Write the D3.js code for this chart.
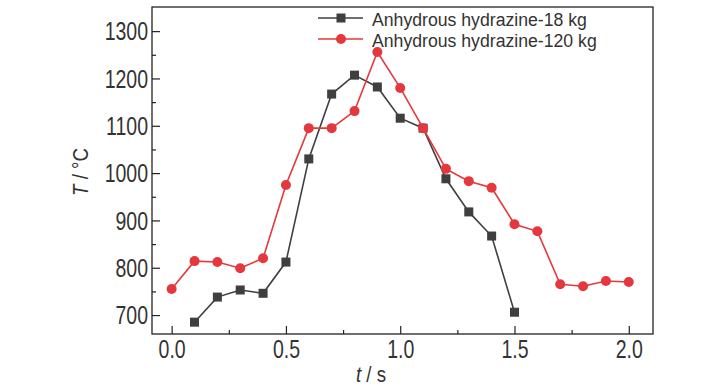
<!DOCTYPE html>
<html><head><meta charset="utf-8">
<script src="https://cdn.jsdelivr.net/npm/d3@7"></script>
<style>body{margin:0;background:#fff}svg{display:block}</style>
</head><body>
<svg id="c" width="728" height="390"></svg>
<script>
const tBlack = [0.1,0.2,0.3,0.4,0.5,0.6,0.7,0.8,0.9,1.0,1.1,1.2,1.3,1.4,1.5];
const vBlack = [685,738,753,746,812,1030,1167,1207,1182,1116,1095,988,918,867,706];
const tRed = [0.0,0.1,0.2,0.3,0.4,0.5,0.6,0.7,0.8,0.9,1.0,1.1,1.2,1.3,1.4,1.5,1.6,1.7,1.8,1.9,2.0];
const vRed = [755,814,812,799,820,975,1095,1095,1131,1256,1180,1095,1009,983,969,892,877,765,761,772,770];
const xTicks = [0.0,0.5,1.0,1.5,2.0];
const yTicks = [700,800,900,1000,1100,1200,1300];
const seriesNames = ["Anhydrous hydrazine-18 kg","Anhydrous hydrazine-120 kg"];
const colors = ["#3f3f3f","#e5383e"];

const svg = d3.select("#c");
const L=152, R=653, T=7, B=334;
const x = d3.scaleLinear().domain([-0.086,2.106]).range([L,R]);
const y = d3.scaleLinear().domain([660,1351]).range([B,T]);
const font = "'Liberation Sans', Arial, sans-serif";

// frame
svg.append("rect").attr("x",L).attr("y",T).attr("width",R-L).attr("height",B-T)
  .attr("fill","none").attr("stroke","#222").attr("stroke-width",1.3);

// x axis
const gx = svg.append("g").attr("transform",`translate(0,${B})`)
  .call(d3.axisBottom(x).tickValues(xTicks).tickFormat(d3.format(".1f")).tickSize(-8).tickPadding(6));
const gxm = svg.append("g").attr("transform",`translate(0,${B})`)
  .call(d3.axisBottom(x).tickValues([0.25,0.75,1.25,1.75]).tickFormat("").tickSize(-4));
// y axis
const gy = svg.append("g").attr("transform",`translate(${L},0)`)
  .call(d3.axisLeft(y).tickValues(yTicks).tickFormat(d3.format("d")).tickSize(-8).tickPadding(4));
const gym = svg.append("g").attr("transform",`translate(${L},0)`)
  .call(d3.axisLeft(y).tickValues([750,850,950,1050,1150,1250]).tickFormat("").tickSize(-4));
[gx,gxm,gy,gym].forEach(g=>{
  g.select(".domain").remove();
  g.selectAll("line").attr("stroke","#222").attr("stroke-width",1.2);
  g.selectAll("text").attr("font-family",font).attr("font-size",25).attr("fill","#333")
    .each(function(){
      const t = d3.select(this);
      const tx = +t.attr("x") || 0, ty = +t.attr("y") || 0;
      t.attr("x",0).attr("y",0).attr("transform",`translate(${tx},${ty}) scale(0.78,1)`);
    });
});
gx.selectAll("text").attr("dy","0.71em");
gy.selectAll("text").attr("dy","0.35em");

// axis titles
const xt = svg.append("text").attr("transform","translate(371,382) scale(0.85,1)").attr("text-anchor","middle")
  .attr("font-family",font).attr("font-size",22).attr("fill","#333");
xt.append("tspan").attr("font-style","italic").text("t");
xt.append("tspan").text(" / s");
const yt = svg.append("text").attr("transform","translate(88,172) rotate(-90) scale(0.85,1)").attr("text-anchor","middle")
  .attr("font-family",font).attr("font-size",22).attr("fill","#333");
yt.append("tspan").attr("font-style","italic").text("T");
yt.append("tspan").text(" / °C");

const line = d3.line().x(d=>x(d[0])).y(d=>y(d[1]));
const dBlack = tBlack.map((t,i)=>[t,vBlack[i]]);
const dRed = tRed.map((t,i)=>[t,vRed[i]]);

// black series
svg.append("path").datum(dBlack).attr("d",line).attr("fill","none").attr("stroke",colors[0]).attr("stroke-width",1.6);
svg.selectAll(".sq").data(dBlack).enter().append("rect")
  .attr("x",d=>x(d[0])-4.5).attr("y",d=>y(d[1])-4.5).attr("width",9).attr("height",9).attr("fill",colors[0]);
// red series
svg.append("path").datum(dRed).attr("d",line).attr("fill","none").attr("stroke",colors[1]).attr("stroke-width",1.6);
svg.selectAll(".ci").data(dRed).enter().append("circle")
  .attr("cx",d=>x(d[0])).attr("cy",d=>y(d[1])).attr("r",5).attr("fill",colors[1]);

// legend
const leg = svg.append("g");
seriesNames.forEach((name,i)=>{
  const ly = 18 + i*21;
  leg.append("line").attr("x1",318).attr("x2",363).attr("y1",ly).attr("y2",ly).attr("stroke",colors[i]).attr("stroke-width",1.6);
  if(i===0) leg.append("rect").attr("x",336.5).attr("y",ly-4.5).attr("width",9).attr("height",9).attr("fill",colors[i]);
  else leg.append("circle").attr("cx",341).attr("cy",ly).attr("r",5).attr("fill",colors[i]);
  leg.append("text").attr("transform",`translate(372,${ly+7.5}) scale(0.93,1)`).attr("font-family",font)
    .attr("font-size",19).attr("fill","#333").text(name);
});
</script>
</body></html>
